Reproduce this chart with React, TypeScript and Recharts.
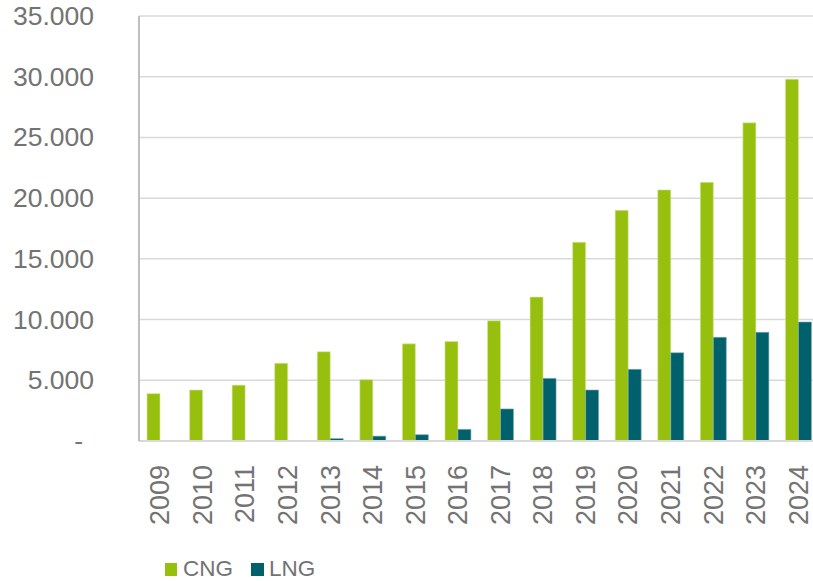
import React from 'react'
import { BarChart, Bar, XAxis, YAxis, CartesianGrid } from 'recharts'

const years = ['2009', '2010', '2011', '2012', '2013', '2014', '2015', '2016', '2017', '2018', '2019', '2020', '2021', '2022', '2023', '2024']
const cng = [3900, 4200, 4600, 6400, 7350, 5050, 8000, 8200, 9900, 11850, 16370, 19000, 20680, 21300, 26200, 29800]
const lng = [0, 0, 0, 0, 200, 400, 520, 960, 2640, 5160, 4200, 5900, 7270, 8540, 8950, 9800]
const yTicks = [0, 5000, 10000, 15000, 20000, 25000, 30000, 35000]

const data = years.map(function (y, i) {
  return { year: y, CNG: cng[i], LNG: lng[i] }
})

const FONT = '"Liberation Sans", Arial, sans-serif'
const TEXT = '#737373'

function formatThousands(v: number) {
  if (v === 0) return '-'
  return v.toLocaleString('de-DE')
}

function YTick(props: any) {
  const { y, payload } = props
  const zero = payload.value === 0
  return (
    <text x={zero ? 83 : 94} y={y} textAnchor="end" dominantBaseline="central"
      fontFamily={FONT} fontSize={26.5} fill={TEXT}>
      {formatThousands(payload.value)}
    </text>
  )
}

function XTick(props: any) {
  const { x, y, payload } = props
  return (
    <text x={0} y={0} transform={'translate(' + x + ',' + (y + 16) + ') rotate(-90)'}
      textAnchor="end" dominantBaseline="central"
      fontFamily={FONT} fontSize={27} fill={TEXT}>
      {payload.value}
    </text>
  )
}

export default function App() {
  return (
    <div style={{
      position: 'fixed', left: 0, top: 0, width: 813, height: 581,
      overflow: 'hidden', background: '#fff',
    }}>
      <BarChart width={820} height={581} data={data}
        margin={{ top: 16, right: 0, bottom: 0, left: 0 }}
        barSize={13} barGap={0}>
        <CartesianGrid vertical={false} stroke="#D9D9D9" strokeWidth={1.5} />
        <XAxis dataKey="year" interval={0} height={140} tickLine={false}
          axisLine={{ stroke: '#D9D9D9', strokeWidth: 2 }} tick={<XTick />} />
        <YAxis width={139} domain={[0, 35000]} ticks={yTicks} tickLine={false}
          axisLine={{ stroke: '#BFBFBF', strokeWidth: 2 }} tick={<YTick />} />
        <Bar dataKey="CNG" fill="#97BF0D" stroke="#d6e8a0" strokeWidth={0.6} isAnimationActive={false} />
        <Bar dataKey="LNG" fill="#00606B" stroke="#7fb0b5" strokeWidth={0.6} isAnimationActive={false} />
      </BarChart>
      <div style={{
        position: 'absolute', left: 165, top: 556, display: 'flex', alignItems: 'center',
        fontFamily: FONT, fontSize: 22.5, color: TEXT, lineHeight: '26px',
      }}>
        <span style={{ width: 12, height: 13, background: '#97BF0D', display: 'inline-block', marginRight: 6 }} />
        <span style={{ marginRight: 18 }}>CNG</span>
        <span style={{ width: 13, height: 13, background: '#00606B', display: 'inline-block', marginRight: 5 }} />
        <span>LNG</span>
      </div>
    </div>
  )
}
